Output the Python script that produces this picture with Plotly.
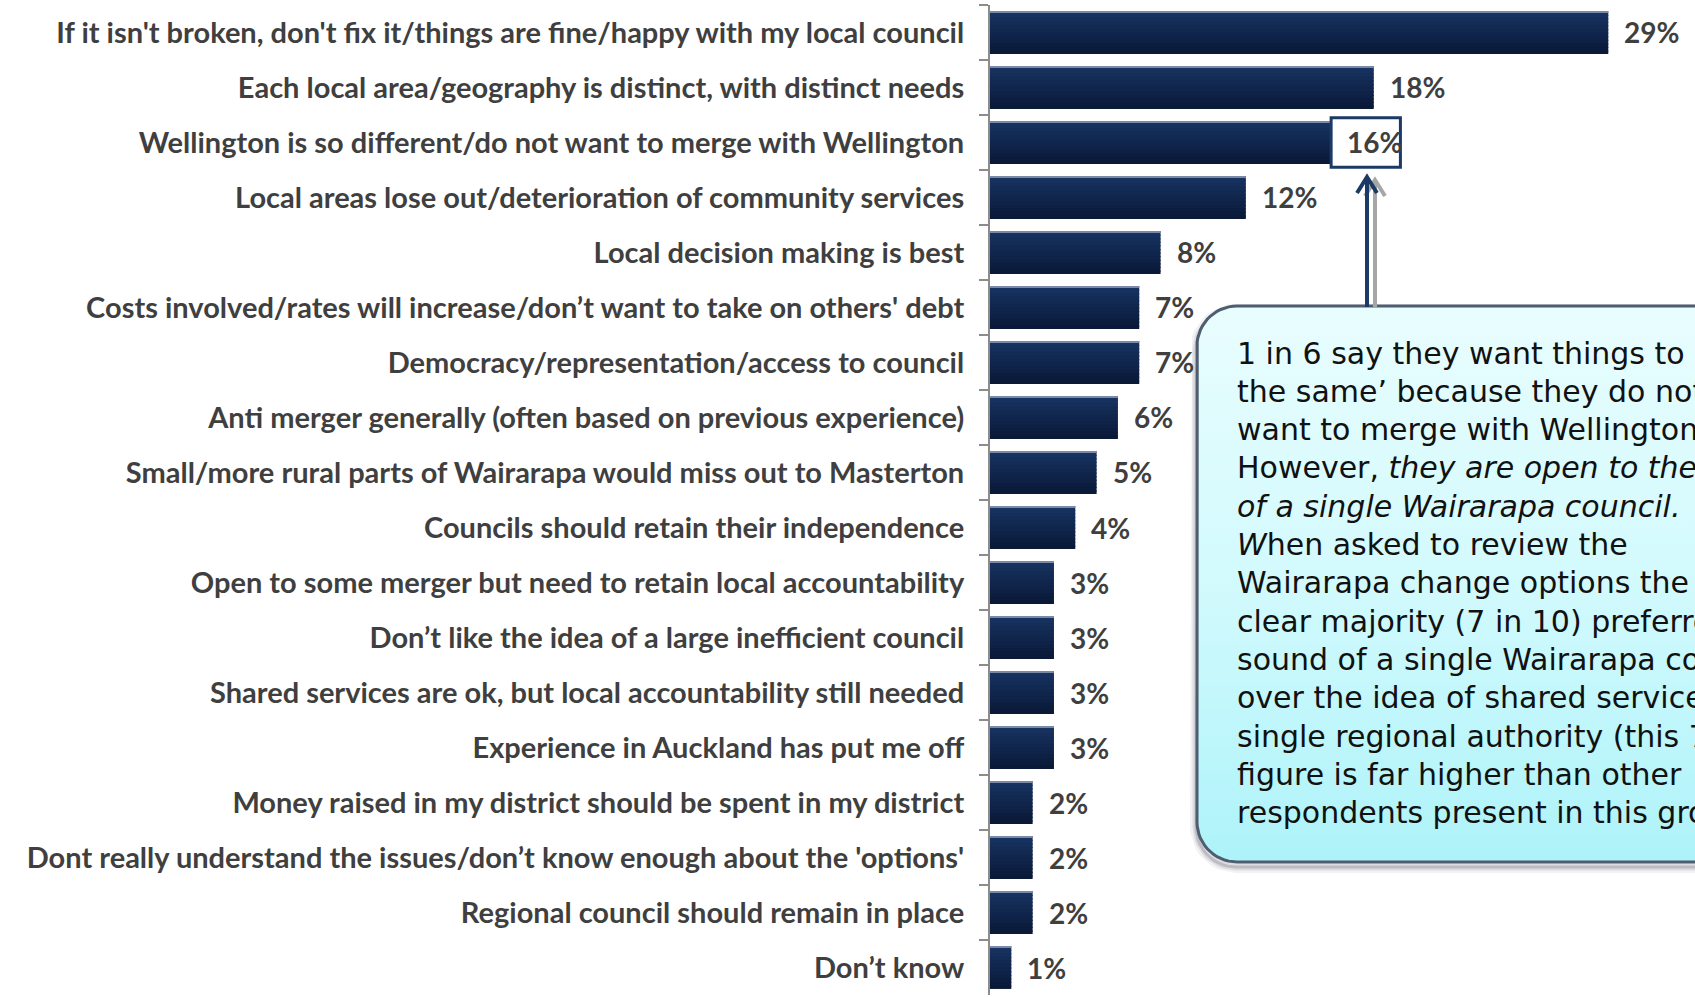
import numpy as np
import plotly.graph_objects as go

W, H = 1695, 997

reasons = [
    "If it isn't broken, don't fix it/things are fine/happy with my local council",
    "Each local area/geography is distinct, with distinct needs",
    "Wellington is so different/do not want to merge with Wellington",
    "Local areas lose out/deterioration of community services",
    "Local decision making is best",
    "Costs involved/rates will increase/don\u2019t want to take on others' debt",
    "Democracy/representation/access to council",
    "Anti merger generally (often based on previous experience)",
    "Small/more rural parts of Wairarapa would miss out to Masterton",
    "Councils should retain their independence",
    "Open to some merger but need to retain local accountability",
    "Don\u2019t like the idea of a large inefficient council",
    "Shared services are ok, but local accountability still needed",
    "Experience in Auckland has put me off",
    "Money raised in my district should be spent in my district",
    "Dont really understand the issues/don\u2019t know enough about the 'options'",
    "Regional council should remain in place",
    "Don\u2019t know",
]
shares = [29, 18, 16, 12, 8, 7, 7, 6, 5, 4, 3, 3, 3, 3, 2, 2, 2, 1]
highlighted = "Wellington is so different/do not want to merge with Wellington"

callout_lines = [
    "1 in 6 say they want things to \u2018stay",
    "the same\u2019 because they do not",
    "want to merge with Wellington.",
    "However, <i>they are open to the idea</i>",
    "<i>of a single Wairarapa council.</i>",
    "<i>W</i>hen asked to review the",
    "Wairarapa change options the",
    "clear majority (7 in 10) preferred the",
    "sound of a single Wairarapa council",
    "over the idea of shared services or a",
    "single regional authority (this 70%",
    "figure is far higher than other",
    "respondents present in this group).",
]

BOX_NAVY = "#1b3a66"
GREY_TXT = "#3f3f3f"
AXIS_GREY = "#8c8c8c"
LABEL_FONT = "Lato"
BAR_TOP, BAR_BOTTOM = np.array([0x17, 0x33, 0x62]), np.array([0x0a, 0x19, 0x37])
BAR_WIDTH = 0.78

fig = go.Figure()

# horizontal bars, shaded top-to-bottom with thin overlapping strips
n_strips = 12
step = BAR_WIDTH / n_strips
for k in range(n_strips):
    t = k / (n_strips - 1)
    rgb = (BAR_TOP + (BAR_BOTTOM - BAR_TOP) * t).round().astype(int)
    fig.add_trace(go.Bar(
        x=shares, y=reasons, orientation="h",
        width=step * 1.35 if k < n_strips - 1 else step,
        offset=-BAR_WIDTH / 2 + k * step,
        marker=dict(color=f"rgb({rgb[0]},{rgb[1]},{rgb[2]})", line=dict(width=0)),
        hoverinfo="skip", showlegend=False,
    ))
# thin light top edge of each bar
fig.add_trace(go.Bar(
    x=shares, y=reasons, orientation="h", width=0.02, offset=-BAR_WIDTH / 2,
    marker=dict(color="#7a8aa6", line=dict(width=0)),
    hoverinfo="skip", showlegend=False,
))

# value labels
annotations = []
for r, v in zip(reasons, shares):
    annotations.append(dict(
        x=v, y=r, xref="x", yref="y", text=f"{v}%", showarrow=False,
        xanchor="left", yanchor="middle", xshift=14,
        font=dict(family=LABEL_FONT, size=28, color=GREY_TXT, weight="bold"),
    ))

# box around the highlighted value
hi = reasons.index(highlighted)
shapes = [dict(
    type="rect", xref="x", yref="y", layer="above",
    x0=shares[hi], x1=shares[hi] + 3.25, y0=hi - 0.45, y1=hi + 0.45,
    line=dict(color=BOX_NAVY, width=3), fillcolor="rgba(255,255,255,0)",
)]


def rounded_rect(x0, y0, x1, y1, r, n=16):
    pts = []
    corners = [
        (x1 - r, y0 + r, -np.pi / 2, 0),
        (x1 - r, y1 - r, 0, np.pi / 2),
        (x0 + r, y1 - r, np.pi / 2, np.pi),
        (x0 + r, y0 + r, np.pi, 1.5 * np.pi),
    ]
    for cx, cy, a0, a1 in corners:
        t = np.linspace(a0, a1, n)
        pts += list(zip(cx + r * np.cos(t), cy + r * np.sin(t)))
    pts.append(pts[0])
    xs, ys = zip(*pts)
    return list(xs), list(ys)


# callout panel (page-pixel overlay axes)
bx0, by0, bx1, by1, rad = 1197, 306, 1780, 862, 40
sx, sy = rounded_rect(bx0 - 1, by0 + 4, bx1, by1 + 5, rad)
for w, a in [(12, 0.06), (7, 0.10), (3, 0.18)]:
    fig.add_trace(go.Scatter(
        x=sx, y=sy, mode="lines", line=dict(color=f"rgba(40,40,60,{a})", width=w),
        xaxis="x2", yaxis="y2", hoverinfo="skip", showlegend=False,
    ))
cx, cy = rounded_rect(bx0, by0, bx1, by1, rad)
fig.add_trace(go.Scatter(
    x=cx, y=cy, mode="lines", fill="toself",
    fillgradient=dict(type="vertical", start=by0, stop=by1,
                      colorscale=[[0, "#e9fdfe"], [0.5, "#d2fafd"], [1, "#adf3f9"]]),
    line=dict(color="#4e5d70", width=3),
    xaxis="x2", yaxis="y2", hoverinfo="skip", showlegend=False,
))

# arrows from the callout up to the highlighted value
for ax, tip, col in [(1375, 180, "#a6a6a6"), (1367, 177, BOX_NAVY)]:
    fig.add_trace(go.Scatter(
        x=[ax, ax, None, ax - 10, ax, ax + 10],
        y=[by0 + 1, tip + 2, None, tip + 16, tip, tip + 16],
        mode="lines", line=dict(color=col, width=4),
        xaxis="x2", yaxis="y2", hoverinfo="skip", showlegend=False,
    ))

for i, line in enumerate(callout_lines):
    annotations.append(dict(
        x=1235, y=353 + 38.3 * i, xref="x2", yref="y2", text=line,
        showarrow=False, xanchor="left", yanchor="middle",
        font=dict(family="DejaVu Sans", size=30, color="#111111"),
    ))

fig.update_layout(
    width=W, height=H,
    margin=dict(l=0, r=0, t=0, b=0),
    paper_bgcolor="white", plot_bgcolor="rgba(0,0,0,0)",
    barmode="overlay",
    xaxis=dict(domain=[990 / W, 1], range=[0, (W - 990) / 21.32],
               visible=False, fixedrange=True),
    yaxis=dict(domain=[1 - 995 / H, 1 - 5 / H], type="category",
               categoryorder="array", categoryarray=reasons, autorange="reversed",
               showline=True, linecolor=AXIS_GREY, linewidth=2,
               ticks="outside", ticklen=9, tickwidth=2, tickcolor=AXIS_GREY,
               tickson="boundaries", ticklabelstandoff=18, showgrid=False,
               tickfont=dict(family=LABEL_FONT, size=29, color=GREY_TXT, weight="bold"),
               automargin=False),
    xaxis2=dict(domain=[0, 1], range=[0, W], anchor="y2", visible=False, fixedrange=True),
    yaxis2=dict(domain=[0, 1], range=[H, 0], anchor="x2", visible=False, fixedrange=True),
    annotations=annotations,
    shapes=shapes,
)

fig.write_html("out.html")
